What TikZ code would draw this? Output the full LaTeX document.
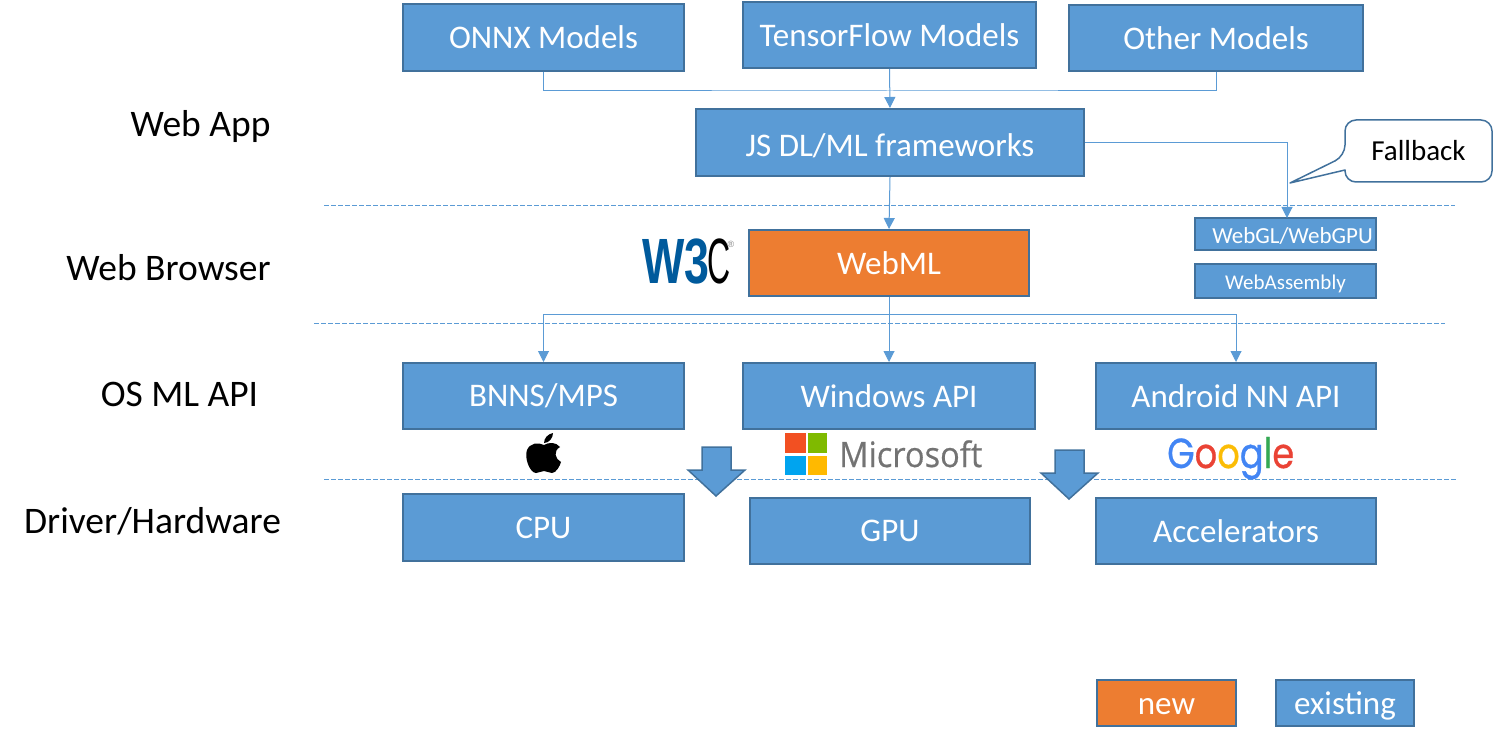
\documentclass[tikz,border=0pt]{standalone}
\usepackage{fontspec}
\setmainfont{Carlito}
\newfontfamily\logosans[FakeBold=0.5]{Open Sans}
\newfontfamily\googlefont[FakeBold=0.7]{Poppins}
\newfontfamily\wthree{Liberation Sans}
\usetikzlibrary{arrows.meta}
\definecolor{boxblue}{HTML}{5B9BD5}
\definecolor{boxedge}{HTML}{41719C}
\definecolor{boxorange}{HTML}{ED7D31}
\newcommand{\fs}[1]{\fontsize{#1}{#1}\selectfont}
\newcommand{\drop}[2]{\smash{\raisebox{-#1pt}{#2}}}
\tikzset{
  x=1pt,y=-1pt,
  bluebox/.style={draw=boxedge,fill=boxblue,line width=2pt,text=white,inner sep=0pt,font=\fs{33}},
  smallbox/.style={bluebox,font=\fs{21}},
  orangebox/.style={bluebox,fill=boxorange},
  sidelabel/.style={inner sep=0pt,font=\fs{37.5},text=black},
  flow/.style={draw=boxblue,line width=1pt},
  flowtip/.style={flow,-{Triangle[length=11pt,width=11pt]}},
  sep/.style={draw=boxblue,line width=0.9pt,dash pattern=on 4.5pt off 2.5pt},
  blockarrow/.style={draw=boxedge,fill=boxblue,line width=1.5pt,line join=miter},
}
\begin{document}
\begin{tikzpicture}
\useasboundingbox (0,0) rectangle (1493,743);
% separators
\coordinate (s1a) at (324,205); \coordinate (s1b) at (1455,205);
\coordinate (s2a) at (314,323); \coordinate (s2b) at (1445,323);
\coordinate (s3a) at (324,479); \coordinate (s3b) at (1456,479);
\draw[sep] (s1a) -- (s1b);
\draw[sep] (s2a) -- (s2b);
\draw[sep] (s3a) -- (s3b);
% boxes
\node[bluebox,minimum width=281pt,minimum height=67pt] (onnx) at (543.5,37.5) {ONNX Models};
\node[bluebox,minimum width=293pt,minimum height=66pt] (tf) at (889.5,35) {TensorFlow Models};
\node[bluebox,minimum width=294pt,minimum height=66pt] (other) at (1216,38) {Other Models};
\node[bluebox,minimum width=388pt,minimum height=67pt] (js) at (890,142.5) {\drop{14}{JS DL/ML frameworks}};
\node[orangebox,minimum width=280pt,minimum height=66pt] (webml) at (889,263) {WebML};
\node[smallbox,minimum width=181pt,minimum height=32pt] (webgl) at (1285.5,234) {\hspace{14pt}\drop{9.5}{\fs{23}WebGL/WebGPU}};
\node[smallbox,minimum width=181pt,minimum height=34pt] (wasm) at (1285.5,281) {\drop{9}{WebAssembly}};
\node[bluebox,minimum width=281pt,minimum height=66pt] (bnns) at (543.5,396) {BNNS/MPS};
\node[bluebox,minimum width=292pt,minimum height=66pt] (win) at (889,396) {Windows API};
\node[bluebox,minimum width=280pt,minimum height=66pt] (android) at (1236,396) {Android NN API};
\node[bluebox,minimum width=281pt,minimum height=67pt] (cpu) at (543.5,527.5) {CPU};
\node[bluebox,minimum width=280pt,minimum height=66pt] (gpu) at (890,531) {GPU};
\node[bluebox,minimum width=280pt,minimum height=66pt] (accel) at (1236,531) {Accelerators};
\node[orangebox,minimum width=139pt,minimum height=46pt] (new) at (1166.5,703) {\drop{11.5}{new}};
\node[bluebox,minimum width=138pt,minimum height=46pt] (existing) at (1345,703) {\drop{11.5}{existing}};
% side labels
\node[sidelabel] (lapp) at (200.5,127) {Web App};
\node[sidelabel] (lbrowser) at (168.5,268) {Web Browser};
\node[sidelabel] (los) at (179.5,394) {OS ML API};
\node[sidelabel] (ldriver) at (152.5,521) {Driver/Hardware};
% connectors
\coordinate (busa) at (890,91);
\coordinate (wgltop) at (1287,218);
\draw[flow] (onnx.south) |- (busa) -| (other.south);
\draw[flowtip] (tf.south) -- (js.north);
\draw[flowtip] (js.east) -| (wgltop);
\draw[flowtip] (js.south) -- (webml.north);
\draw[flowtip] (webml.south) -- (win.north);
\coordinate (busb) at (889,314);
\draw[flowtip] (busb) -| (bnns.north);
\draw[flowtip] (busb) -| (android.north);
% callout
\draw[draw=boxedge,fill=white,line width=1.5pt,line join=round]
  (1345,156) -- (1290,183) -- (1345,170)
  [rounded corners=11pt] -- (1345,182) -- (1492,182) -- (1492,120) -- (1345,120) -- cycle;
\node[inner sep=0pt,font=\fs{29},text=black] (fallback) at (1418.5,151) {Fallback};
% block arrows
\draw[blockarrow] (702,447) -- (731,447) -- (731,470) -- (745,470) -- (716,496) -- (688,470) -- (702,470) -- cycle;
\draw[blockarrow] (1055,450) -- (1084,450) -- (1084,473) -- (1098,473) -- (1069,499) -- (1041,473) -- (1055,473) -- cycle;
% W3C logo
\node[inner sep=0pt,anchor=west,text=black] (w3c) at (642,262) {\wthree\fs{64}\bfseries\textcolor[HTML]{005A9C}{\scalebox{0.7}[1]{W3}}\kern-2pt\scalebox{0.5}[1]{\mdseries C}};
\node[inner sep=0pt,text=gray,font=\wthree\fs{9}] (reg) at (731,244) {®};
% Apple logo
\fill[black] (544,445) .. controls (538,442) and (530,443) .. (527,450)
  .. controls (524,458) and (530,473) .. (536,473)
  .. controls (539,473) and (541,471) .. (544,471)
  .. controls (547,471) and (549,473) .. (552,473)
  .. controls (556,473) and (560,466) .. (561,462)
  .. controls (555,459) and (553,451) .. (560,447)
  .. controls (556,442) and (549,442) .. (544,445) -- cycle;
\fill[black] (544,443) .. controls (544,438) and (548,434) .. (553,433)
  .. controls (553,438) and (549,443) .. (544,443) -- cycle;
% Microsoft logo
\fill[fill={rgb,255:red,242;green,80;blue,34}] (785,433) rectangle (806,453);
\fill[fill={rgb,255:red,127;green,186;blue,0}] (808,433) rectangle (827,453);
\fill[fill={rgb,255:red,0;green,164;blue,239}] (785,456) rectangle (806,475);
\fill[fill={rgb,255:red,255;green,185;blue,0}] (808,456) rectangle (827,475);
\node[inner sep=0pt,anchor=base west,text={rgb,255:red,115;green,115;blue,115},font=\logosans\fs{35}] (ms) at (839,467) {\scalebox{0.93}[1]{Microsoft}};
% Google logo
\node[inner sep=0pt,anchor=base west,font=\googlefont\fs{42}] (google) at (1167,468) {\scalebox{0.84}[1]{\textcolor[HTML]{4285F4}{G}\textcolor[HTML]{EA4335}{o}\textcolor[HTML]{FBBC05}{o}\textcolor[HTML]{4285F4}{g}\textcolor[HTML]{34A853}{l}\textcolor[HTML]{EA4335}{e}}};
\end{tikzpicture}
\end{document}
